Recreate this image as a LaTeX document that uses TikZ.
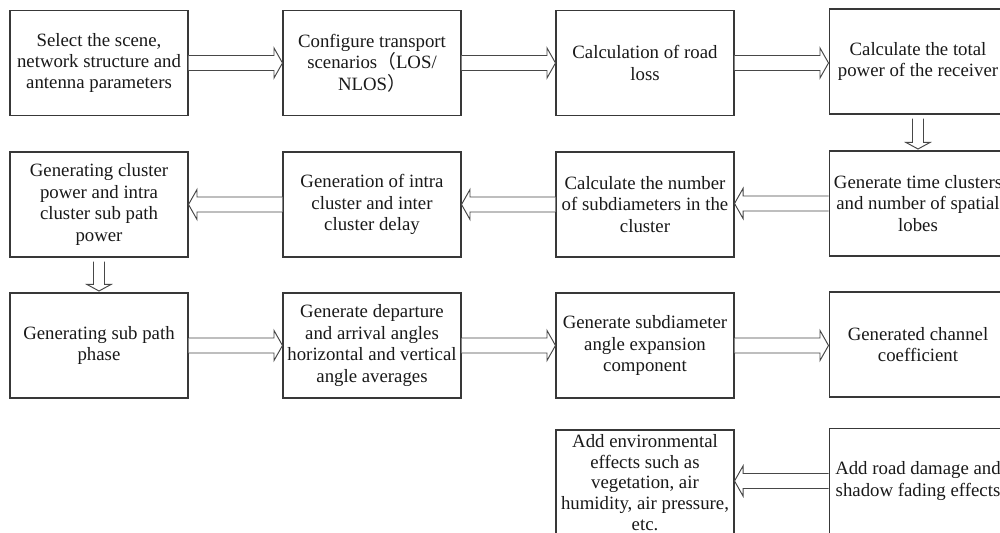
\documentclass[tikz,border=0pt]{standalone}
\usepackage{fontspec}
\setmainfont{Liberation Serif}
\newfontfamily\cjk{Noto Sans CJK SC}
\usetikzlibrary{calc}

% horizontal block arrow: #1 = start point, #2 = tip point, #3 = +1 (right) or -1 (left)
\newcommand\hblock[3]{%
  \draw[blockarrow]
    ($(#1)+(0,7.5)$) -- ($(#2)+(#3*-8.5,7.5)$) -- ($(#2)+(#3*-8.5,15)$) -- (#2)
    -- ($(#2)+(#3*-8.5,-15)$) -- ($(#2)+(#3*-8.5,-7.5)$) -- ($(#1)+(0,-7.5)$);}
% vertical block arrow pointing down from box #1 to box #2
\newcommand\vblock[2]{%
  \draw[blockarrow]
    ($(#1.south)+(-5.5,4)$) -- ($(#2.north |- #1.south)+(-5.5,4)$) -- ($(#2.north)+(-5.5,-8)$)
    -- ($(#2.north)+(-12,-8)$) -- ($(#2.north)+(0,-1.5)$) -- ($(#2.north)+(12,-8)$)
    -- ($(#2.north)+(5.5,-8)$) -- ($(#1.south)+(5.5,4)$);}

\tikzset{
  stepbox/.style={draw=black!78, line width=0.6pt, rectangle, inner sep=0pt,
    minimum width=3.56cm, minimum height=2.1cm, align=center,
    font=\fontsize{10.7}{12.2}\selectfont, text=black!90},
  blockarrow/.style={draw=black!72, line width=0.55pt, fill=white, line join=miter},
}

\begin{document}
\begin{tikzpicture}[x=0.02cm, y=-0.02cm]
\useasboundingbox[fill=white] (0,0) rectangle (1000,533);

% row 1
\node[stepbox] (b1) at (99,63) {Select the scene,\\network structure and\\antenna parameters};
\node[stepbox] (b2) at (372,63) {Configure transport\\scenarios{\cjk （}LOS/\\NLOS{\cjk ）}};
\node[stepbox] (b3) at (645,63) {Calculation of road\\loss};
\node[stepbox] (b4) at (918,61.5) {Calculate the total\\power of the receiver};

% row 2
\node[stepbox] (b5) at (918,203.5) {Generate time clusters\\and number of spatial\\lobes};
\node[stepbox] (b6) at (645,204.5) {Calculate the number\\of subdiameters in the\\cluster};
\node[stepbox] (b7) at (372,204.5) {Generation of intra\\cluster and inter\\cluster delay};
\node[stepbox] (b8) at (99,204.5) {Generating cluster\\power and intra\\cluster sub path\\power};

% row 3
\node[stepbox] (b9) at (99,345.5) {Generating sub path\\phase};
\node[stepbox] (b10) at (372,345.5) {Generate departure\\and arrival angles\\horizontal and vertical\\angle averages};
\node[stepbox] (b11) at (645,345.5) {Generate subdiameter\\angle expansion\\component};
\node[stepbox] (b12) at (918,344.5) {Generated channel\\coefficient};

% row 4 (the five-line box sits on the lower edge, so its text is kept a bit tighter)
\node[stepbox] (b13) at (918,481) {Add road damage and\\shadow fading effects};
\node[stepbox, font=\fontsize{10.7}{11.7}\selectfont] (b14) at (645,482.5)
  {Add environmental\\effects such as\\vegetation, air\\humidity, air pressure,\\etc.};

% connectors
\hblock{b1.east}{b2.west |- b1.east}{1}
\hblock{b2.east}{b3.west |- b2.east}{1}
\hblock{b3.east}{b4.west |- b3.east}{1}
\vblock{b4}{b5}
\hblock{b5.west}{b6.east |- b5.west}{-1}
\hblock{b6.west}{b7.east |- b6.west}{-1}
\hblock{b7.west}{b8.east |- b7.west}{-1}
\vblock{b8}{b9}
\hblock{b9.east}{b10.west |- b9.east}{1}
\hblock{b10.east}{b11.west |- b10.east}{1}
\hblock{b11.east}{b12.west |- b11.east}{1}
\hblock{b13.west}{b14.east |- b13.west}{-1}
\end{tikzpicture}
\end{document}
